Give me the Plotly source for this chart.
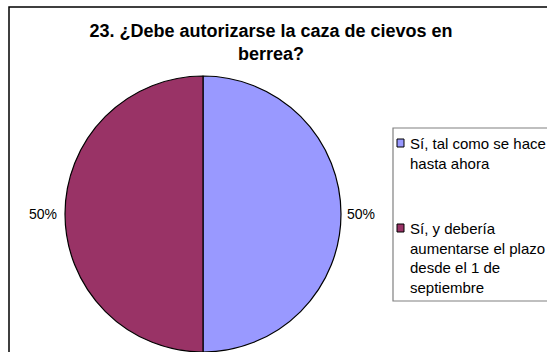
import plotly.graph_objects as go

# Survey answers and their shares
labels = [
    "Sí, tal como se hace<br>hasta ahora",
    "Sí, y debería<br>aumentarse el plazo<br>desde el 1 de<br>septiembre",
]
values = [50, 50]
colors = ["#9999FF", "#993366"]
title_text = "23. ¿Debe autorizarse la caza de cievos en<br>berrea?"

W, H = 547, 352
FONT = "Liberation Sans, Arial, sans-serif"


def px(x):
    return x / W


def py(y):
    return 1 - y / H


fig = go.Figure()
fig.add_trace(go.Pie(
    labels=labels,
    values=values,
    sort=False,
    direction="clockwise",
    rotation=0,
    textinfo="none",
    hoverinfo="label+percent",
    showlegend=False,
    marker=dict(colors=colors, line=dict(color="#000000", width=1.2)),
    domain=dict(x=[px(64), px(342)], y=[0, py(76)]),
))

# Percentage labels beside each half, taken from the values
total = sum(values)
pcts = [f"{v / total:.0%}" for v in values]
fig.add_annotation(x=px(345), y=py(214), xref="paper", yref="paper",
                   text=pcts[0], showarrow=False, xanchor="left", yanchor="middle",
                   font=dict(family=FONT, size=14, color="#000000"))
fig.add_annotation(x=px(59), y=py(214), xref="paper", yref="paper",
                   text=pcts[1], showarrow=False, xanchor="right", yanchor="middle",
                   font=dict(family=FONT, size=14, color="#000000"))

# Chart-area frame and legend frame
fig.add_shape(type="rect", xref="paper", yref="paper",
              x0=px(9), x1=1.1, y0=-0.1, y1=py(7),
              line=dict(color="#000000", width=1.5), layer="below")
fig.add_shape(type="rect", xref="paper", yref="paper",
              x0=px(393), x1=1.1, y0=py(301), y1=py(128),
              line=dict(color="#808080", width=1.2), layer="below")

# Legend entries: small swatch plus wrapped label
legend_first_line = [143, 228]
for lab, col, yc in zip(labels, colors, legend_first_line):
    fig.add_shape(type="rect", xref="paper", yref="paper",
                  x0=px(397), x1=px(404), y0=py(yc + 4), y1=py(yc - 4),
                  fillcolor=col, line=dict(color="#000000", width=1))
    fig.add_annotation(x=px(408), y=py(yc - 10), xref="paper", yref="paper",
                       text=lab, showarrow=False, xanchor="left", yanchor="top",
                       align="left",
                       font=dict(family=FONT, size=15, color="#000000"))

fig.update_layout(
    width=W, height=H,
    margin=dict(l=0, r=0, t=0, b=0, autoexpand=False),
    paper_bgcolor="#FFFFFF",
    plot_bgcolor="#FFFFFF",
    title=dict(text=title_text, x=px(271), xanchor="center",
               y=py(37), yanchor="top",
               font=dict(family=FONT, size=18, color="#000000", weight="bold")),
    showlegend=False,
)

fig.write_html("out.html")
